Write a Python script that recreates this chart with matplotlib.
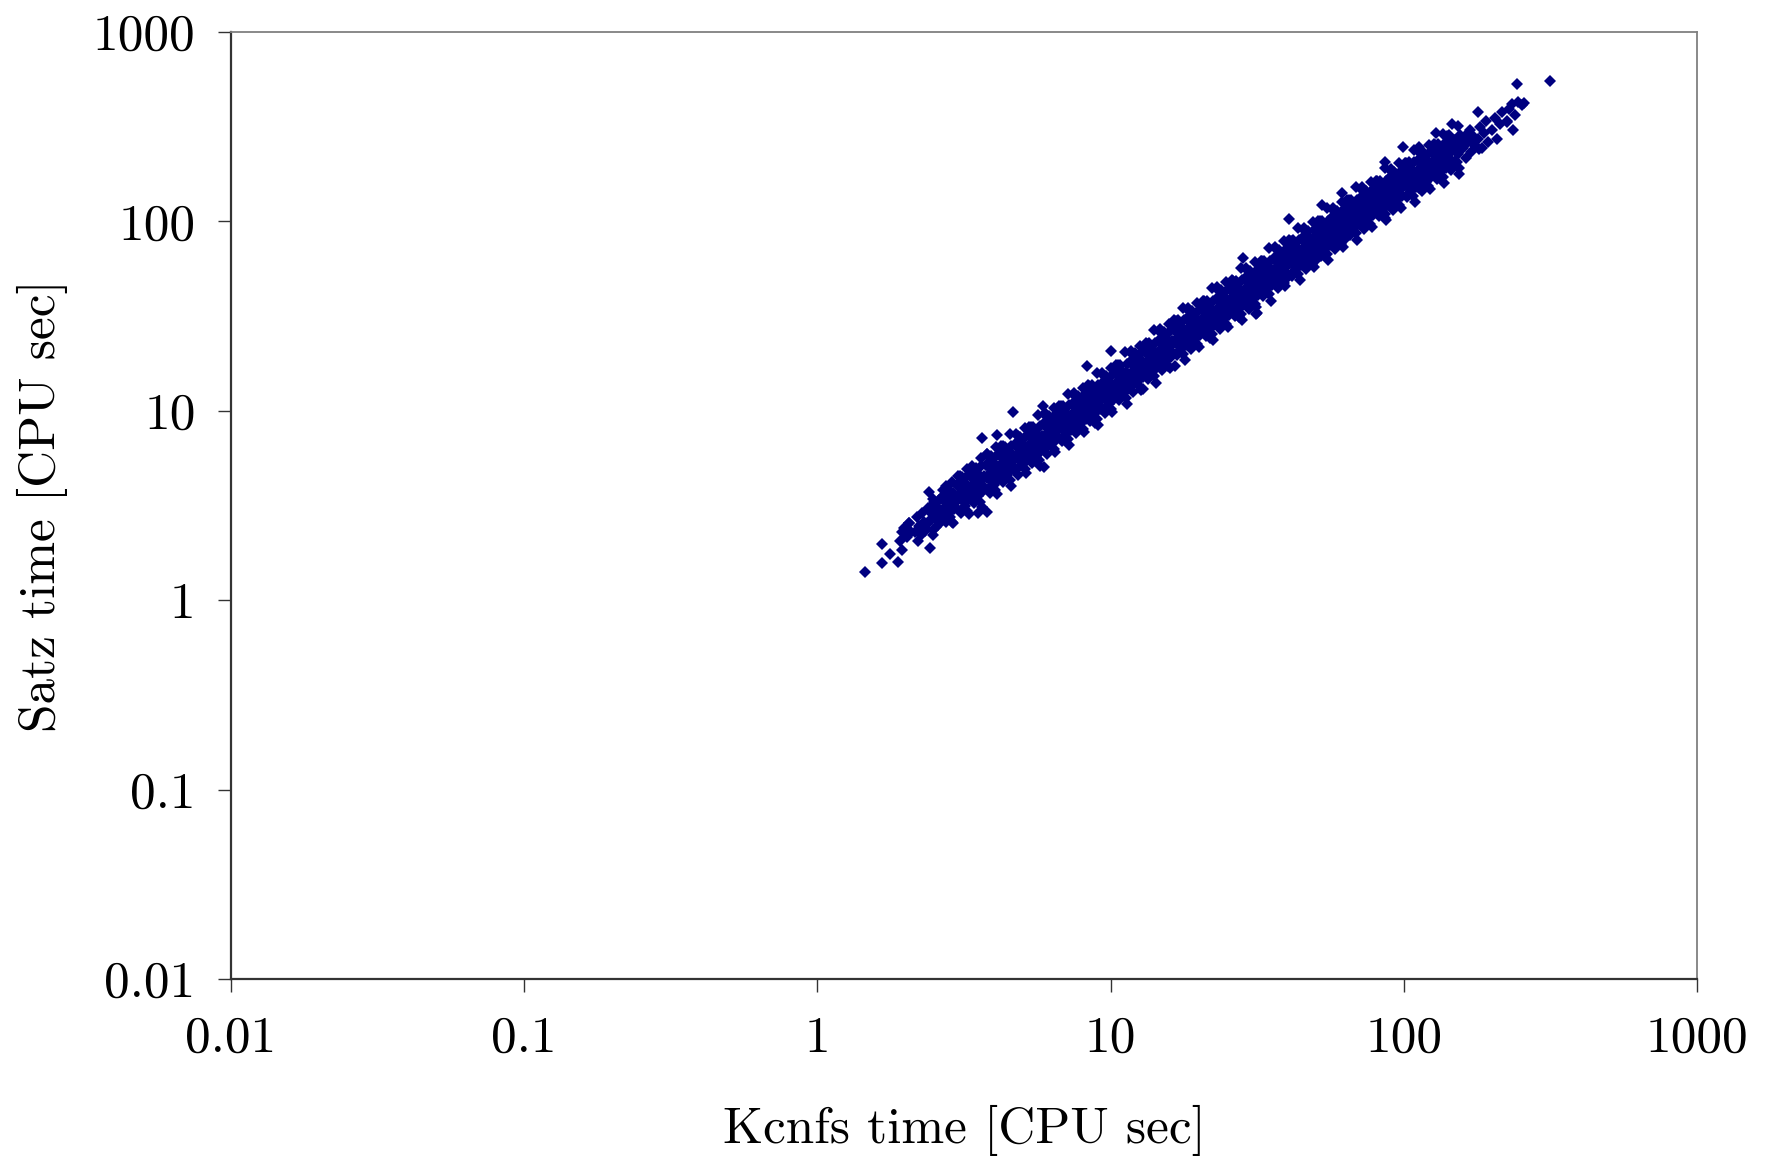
import matplotlib
matplotlib.use("Agg")
import matplotlib.pyplot as plt

plt.rcParams['font.family'] = 'cmr10'
plt.rcParams['mathtext.fontset'] = 'cm'
plt.rcParams['axes.unicode_minus'] = False

# points, grouped roughly by kcnfs time (CPU sec)
kcnfs_time = [
    1.92, 1.97, 2.02, 2.06, 1.95, 2.08,
    2.15, 2.18, 2.22, 2.26, 2.28, 2.31, 2.2, 2.33,
    2.4, 2.42, 2.45, 2.48, 2.5, 2.52, 2.55, 2.58, 2.6, 2.47,
    2.68, 2.7, 2.72, 2.75, 2.78, 2.8, 2.82, 2.85, 2.87, 2.9, 2.74, 2.92,
    3.02, 3.05, 3.08, 3.1, 3.12, 3.15, 3.18, 3.2, 3.23, 3.25, 3.27, 3.3, 3.06,
    3.36, 3.39, 3.42, 3.45, 3.48, 3.5, 3.53, 3.56, 3.59, 3.62, 3.64, 3.4, 3.66,
    3.78, 3.82, 3.85, 3.88, 3.91, 3.94, 3.97, 4.0, 4.03, 4.06, 4.09, 4.12, 3.8,
    4.22, 4.26, 4.3, 4.34, 4.38, 4.42, 4.46, 4.5, 4.54, 4.57, 4.6, 4.3, 4.63,
    4.75, 4.8, 4.84, 4.88, 4.93, 4.97, 5.02, 5.06, 5.1, 5.14, 5.18, 4.82, 5.2,
    5.28, 5.33, 5.38, 5.43, 5.48, 5.53, 5.58, 5.63, 5.68, 5.72, 5.76, 5.35, 5.8,
    5.95, 6.0, 6.06, 6.12, 6.18, 6.23, 6.29, 6.35, 6.4, 6.45, 6.5, 6.03, 6.53,
    6.67, 6.73, 6.8, 6.86, 6.92, 6.98, 7.05, 7.11, 7.17, 7.23, 7.28, 6.75, 7.32,
    7.49, 7.55, 7.62, 7.7, 7.77, 7.83, 7.9, 7.97, 8.03, 8.1, 8.17, 7.58, 8.22,
    8.35, 8.43, 8.5, 8.58, 8.66, 8.74, 8.82, 8.9, 8.97, 9.04, 9.11, 8.45, 9.17,
    9.36, 9.44, 9.53, 9.62, 9.7, 9.79, 9.88, 9.97, 10.05, 10.13, 10.2, 9.47, 10.27,
    10.46, 10.56, 10.66, 10.76, 10.85, 10.95, 11.05, 11.15, 11.24, 11.33, 11.41, 10.6, 11.48,
    11.7, 11.8, 11.9, 12.0, 12.1, 12.25, 12.35, 12.45, 12.55, 12.65, 12.75, 11.85, 12.85,
    13.15, 13.27, 13.4, 13.5, 13.6, 13.72, 13.85, 13.97, 14.08, 14.2, 14.3, 13.3, 14.4,
    14.7, 14.83, 14.95, 15.1, 15.22, 15.35, 15.47, 15.6, 15.72, 15.85, 15.97, 14.87, 16.08,
    16.5, 16.65, 16.8, 16.95, 17.1, 17.25, 17.4, 17.55, 17.68, 17.82, 17.95, 16.7, 18.08,
    18.45, 18.62, 18.8, 18.95, 19.12, 19.28, 19.45, 19.6, 19.75, 19.9, 20.05, 18.65, 20.2,
    20.6, 20.8, 21.0, 21.2, 21.4, 21.6, 21.78, 21.95, 22.12, 22.3, 22.46, 20.85, 22.6,
    23.1, 23.35, 23.55, 23.77, 24.0, 24.2, 24.42, 24.62, 24.8, 25.0, 25.17, 23.38, 25.33,
    25.9, 26.15, 26.4, 26.6, 26.85, 27.08, 27.3, 27.5, 27.75, 27.95, 28.15, 26.2, 28.35,
    29.0, 29.25, 29.5, 29.78, 30.05, 30.3, 30.55, 30.8, 31.05, 31.3, 31.5, 29.3, 31.72,
    32.4, 32.7, 33.0, 33.3, 33.6, 33.9, 34.2, 34.5, 34.75, 35.0, 35.25, 32.8, 35.5,
    36.4, 36.7, 37.0, 37.35, 37.7, 38.0, 38.35, 38.65, 38.95, 39.25, 39.5, 36.8, 39.8,
    40.7, 41.1, 41.45, 41.8, 42.2, 42.55, 42.9, 43.25, 43.55, 43.9, 44.2, 41.2, 44.5,
    45.6, 46.0, 46.4, 46.8, 47.25, 47.65, 48.05, 48.45, 48.8, 49.2, 49.55, 46.1, 49.9,
    51.1, 51.5, 52.0, 52.4, 52.9, 53.35, 53.8, 54.25, 54.65, 55.1, 55.5, 51.6, 55.9,
    57.2, 57.7, 58.2, 58.7, 59.25, 59.75, 60.25, 60.75, 61.2, 61.7, 62.1, 57.8, 62.6,
    64.1, 64.7, 65.2, 65.8, 66.4, 67.0, 67.5, 68.1, 68.6, 69.1, 69.6, 64.8, 70.1,
    71.8, 72.4, 73.0, 73.7, 74.3, 74.9, 75.6, 76.2, 76.8, 77.4, 78.0, 72.6, 78.5,
    80.4, 81.1, 81.8, 82.5, 83.2, 84.0, 84.7, 85.4, 86.0, 86.7, 87.3, 81.3, 88.0,
    90.0, 90.8, 91.6, 92.4, 93.2, 94.0, 94.8, 95.6, 96.3, 97.0, 97.7, 91.0, 98.4,
    100.8, 101.7, 102.6, 103.5, 104.4, 105.3, 106.2, 107, 107.8, 108.6, 109.4, 101.9, 110.2,
    113, 114, 115, 116, 117, 118.2, 119.3, 120.3, 121.2, 122, 123, 114.5, 124,
    126.7, 127.8, 129, 130.2, 131.4, 132.6, 133.8, 135, 136, 137, 138, 128.2, 139,
    142, 143.5, 145, 146.5, 148, 149.5, 151, 152.5, 154, 155.5, 140.5,
    159.5, 161.5, 163.5, 165.5, 167.5, 169.5, 171.5, 173,
    179, 182, 185, 188, 191, 193,
    200, 204, 208, 212, 216,
    224, 229, 235, 240,
    # scattered points away from the core
    1.45, 1.66, 1.66, 1.77, 1.88, 1.94, 2.05, 2.41, 2.43, 3.53, 3.78, 3.63,
    4.1, 4.63, 5.86, 5.93, 8.85, 8.3, 10.0, 12.9, 16.6, 21.8, 31.6, 27.4,
    28.3, 40.3, 40.5, 31.3, 50.1, 52.6, 61.5, 63.5, 86.3, 86.0, 99.4, 113,
    113, 152, 180, 129, 146, 225, 179, 233, 245, 252, 257, 243, 315,
]

satz_time = [
    2.05, 2.4, 2.15, 2.55, 1.85, 2.3,
    2.3, 2.75, 2.45, 2.2, 2.9, 2.6, 2.05, 2.4,
    2.6, 3.05, 2.85, 2.35, 3.3, 2.7, 3.0, 2.5, 3.4, 2.2,
    3.0, 3.5, 2.7, 3.25, 3.8, 2.9, 3.4, 3.1, 2.6, 3.7, 4.0, 3.3,
    3.4, 3.95, 3.0, 3.7, 4.3, 3.3, 4.0, 3.6, 2.95, 4.6, 3.85, 3.45, 4.5,
    3.8, 4.4, 3.4, 4.1, 4.8, 3.7, 4.5, 4.0, 3.3, 5.1, 4.3, 5.0, 3.75,
    4.4, 5.1, 3.9, 4.7, 5.5, 4.2, 5.0, 4.55, 3.8, 5.8, 4.9, 4.3, 5.9,
    4.9, 5.7, 4.4, 5.3, 6.2, 4.75, 5.6, 5.1, 4.3, 6.5, 5.5, 6.5, 4.9,
    5.6, 6.4, 5.0, 6.0, 7.0, 5.35, 6.4, 5.8, 4.9, 7.4, 6.2, 7.4, 5.5,
    6.2, 7.2, 5.6, 6.7, 7.8, 6.0, 7.2, 6.5, 5.5, 8.3, 7.0, 8.2, 6.1,
    7.1, 8.3, 6.4, 7.7, 8.9, 6.9, 8.2, 7.4, 6.3, 9.5, 8.0, 9.4, 7.0,
    8.0, 9.3, 7.2, 8.7, 10.0, 7.8, 9.3, 8.4, 7.1, 10.7, 9.1, 10.6, 7.9,
    9.1, 10.5, 8.2, 9.8, 11.3, 8.8, 10.5, 9.5, 8.0, 12.1, 10.3, 12.0, 9.0,
    10.3, 11.9, 9.2, 11.1, 12.8, 10.0, 11.9, 10.8, 9.1, 13.7, 11.7, 13.5, 10.2,
    11.6, 13.4, 10.4, 12.5, 14.4, 11.2, 13.4, 12.1, 10.2, 15.4, 13.2, 15.2, 11.5,
    13.2, 15.3, 11.9, 14.3, 16.4, 12.8, 15.3, 13.8, 11.7, 17.6, 15.0, 17.4, 13.1,
    15.2, 17.6, 13.6, 16.5, 18.9, 14.7, 17.6, 15.9, 13.4, 20.2, 17.2, 20.0, 15.0,
    17.2, 19.9, 15.4, 18.6, 21.4, 16.6, 19.9, 18.0, 15.2, 22.8, 19.5, 22.6, 17.0,
    19.6, 22.7, 17.6, 21.2, 24.4, 18.9, 22.7, 20.5, 17.3, 26.0, 22.2, 25.8, 19.3,
    22.7, 26.2, 20.3, 24.5, 28.2, 21.8, 26.2, 23.7, 20.0, 30.0, 25.7, 29.8, 22.3,
    25.5, 29.4, 22.8, 27.5, 31.7, 24.5, 29.4, 26.6, 22.4, 33.7, 28.8, 33.4, 25.0,
    28.8, 33.3, 25.8, 31.1, 35.8, 27.7, 33.3, 30.1, 25.3, 38.1, 32.6, 37.8, 28.3,
    32.7, 37.7, 29.2, 35.3, 40.6, 31.4, 37.7, 34.1, 28.7, 43.2, 37.0, 42.9, 32.1,
    36.9, 42.6, 33.0, 39.9, 45.9, 35.5, 42.6, 38.5, 32.5, 48.8, 41.8, 48.5, 36.3,
    41.6, 48.0, 37.2, 45.0, 51.8, 40.0, 48.0, 43.4, 36.6, 55.0, 47.1, 54.7, 40.9,
    46.8, 54.1, 41.9, 50.6, 58.3, 45.0, 54.1, 48.9, 41.2, 61.9, 53.0, 61.5, 46.0,
    53.6, 62.0, 48.0, 58.0, 66.8, 51.6, 62.0, 56.0, 47.2, 70.9, 60.8, 70.5, 52.7,
    60.0, 69.4, 53.7, 64.9, 74.7, 57.7, 69.4, 62.7, 52.8, 79.4, 68.0, 78.9, 59.0,
    67.7, 78.2, 60.5, 73.1, 84.2, 65.0, 78.2, 70.7, 59.5, 89.5, 76.7, 89.0, 66.5,
    76.5, 88.4, 68.4, 82.6, 95.2, 73.5, 88.4, 79.9, 67.3, 101, 86.7, 100, 75.2,
    86.4, 99.8, 77.3, 93.3, 108, 83.0, 99.8, 90.2, 76.0, 114, 97.9, 113, 84.9,
    98.1, 113, 87.7, 106, 122, 94.2, 113, 102, 86.3, 130, 111, 129, 96.4,
    110, 127, 98.2, 118, 137, 105, 127, 115, 96.6, 145, 124, 144, 108,
    124, 144, 111, 134, 155, 119, 144, 130, 109, 164, 141, 163, 122,
    139, 160, 124, 150, 173, 133, 160, 145, 122, 183, 157, 182, 136,
    155, 179, 138, 167, 193, 148, 179, 162, 136, 205, 176, 203, 152,
    174, 201, 155, 187, 216, 166, 201, 182, 153, 230, 197, 228, 171,
    194, 225, 174, 210, 242, 186, 225, 204, 171, 256, 221, 254, 191,
    217, 251, 194, 234, 270, 208, 251, 228, 192, 286, 282,
    243, 281, 217, 262, 302, 233, 281, 254,
    272, 314, 243, 293, 338, 261,
    303, 350, 272, 327, 377,
    339, 392, 305, 366,
    # scattered points away from the core
    1.41, 1.57, 1.98, 1.75, 1.6, 2.29, 2.56, 3.72, 1.89, 2.89, 2.92, 7.16,
    7.45, 9.8, 10.6, 5.05, 8.65, 17.3, 20.7, 13.0, 17.3, 24.2, 32.8, 31.3,
    64, 50.8, 103, 32.4, 62.5, 122, 141, 81.7, 104, 206, 247, 150,
    247, 206, 241, 293, 327, 335, 378, 417, 425, 412, 420, 529, 553,
]

# points along the upper and lower edges of the band
kcnfs_edge = [
    2.69, 2.88, 2.74, 2.91, 2.8, 2.86, 2.63, 2.97,
    3.02, 3.24, 3.09, 3.28, 3.15, 3.21, 2.96, 3.34,
    3.36, 3.6, 3.43, 3.64, 3.5, 3.57, 3.29, 3.71,
    3.79, 4.07, 3.87, 4.11, 3.95, 4.03, 3.71, 4.19,
    4.22, 4.53, 4.31, 4.58, 4.4, 4.49, 4.14, 4.66,
    4.75, 5.1, 4.85, 5.15, 4.95, 5.05, 4.65, 5.25,
    5.28, 5.67, 5.39, 5.72, 5.5, 5.61, 5.17, 5.83,
    5.95, 6.39, 6.08, 6.45, 6.2, 6.32, 5.83, 6.57,
    6.67, 7.16, 6.81, 7.23, 6.95, 7.09, 6.53, 7.37,
    7.49, 8.03, 7.64, 8.11, 7.8, 7.96, 7.33, 8.27,
    8.35, 8.96, 8.53, 9.05, 8.7, 8.87, 8.18, 9.22,
    9.36, 10.04, 9.56, 10.14, 9.75, 9.95, 9.17, 10.34,
    10.46, 11.23, 10.68, 11.34, 10.9, 11.12, 10.25, 11.55,
    11.71, 12.57, 11.96, 12.69, 12.2, 12.44, 11.47, 12.93,
    13.15, 14.11, 13.43, 14.25, 13.7, 13.97, 12.88, 14.52,
    14.69, 15.76, 14.99, 15.91, 15.3, 15.61, 14.38, 16.22,
    16.51, 17.72, 16.86, 17.89, 17.2, 17.54, 16.17, 18.23,
    18.43, 19.78, 18.82, 19.97, 19.2, 19.58, 18.05, 20.35,
    20.64, 22.15, 21.07, 22.36, 21.5, 21.93, 20.21, 22.79,
    23.14, 24.82, 23.62, 25.06, 24.1, 24.58, 22.65, 25.55,
    25.92, 27.81, 26.46, 28.08, 27.0, 27.54, 25.38, 28.62,
    28.99, 31.11, 29.6, 31.41, 30.2, 30.8, 28.39, 32.01,
    32.45, 34.81, 33.12, 35.15, 33.8, 34.48, 31.77, 35.83,
    36.38, 39.04, 37.14, 39.42, 37.9, 38.66, 35.63, 40.17,
    40.7, 43.67, 41.55, 44.1, 42.4, 43.25, 39.86, 44.94,
    45.6, 48.93, 46.55, 49.4, 47.5, 48.45, 44.65, 50.35,
    51.07, 54.8, 52.14, 55.33, 53.2, 54.26, 50.01, 56.39,
    57.22, 61.39, 58.41, 61.98, 59.6, 60.79, 56.02, 63.18,
    64.13, 68.8, 65.46, 69.47, 66.8, 68.14, 62.79, 70.81,
    71.81, 77.04, 73.3, 77.79, 74.8, 76.3, 70.31, 79.29,
    80.45, 86.31, 82.12, 87.15, 83.8, 85.48, 78.77, 88.83,
    90.05, 96.61, 91.92, 97.55, 93.8, 95.68, 88.17, 99.43,
    100.8, 108.2, 102.9, 109.2, 105, 107.1, 98.7, 111.3,
    113.3, 121.5, 115.6, 122.7, 118, 120.4, 110.9, 125.1,
    126.7, 136, 129.4, 137.3, 132, 134.6, 124.1, 139.9,
    142.1, 152.4, 145, 153.9, 148, 151, 139.1, 156.9,
]

satz_edge = [
    3.8, 4.2, 2.6, 2.55, 3.45, 3.15, 3.0, 3.5,
    4.5, 4.9, 2.9, 2.85, 3.95, 3.65, 3.5, 4.0,
    5.1, 5.6, 3.25, 3.1, 4.4, 4.15, 3.9, 4.5,
    5.9, 6.4, 3.7, 3.65, 5.05, 4.75, 4.45, 5.2,
    6.5, 7.5, 4.2, 4.0, 5.7, 5.3, 5.0, 5.85,
    7.5, 8.1, 4.6, 4.7, 6.45, 6.0, 5.75, 6.6,
    8.2, 9.5, 5.3, 5.1, 7.3, 6.75, 6.4, 7.4,
    9.7, 10.4, 5.9, 6.05, 8.3, 7.7, 7.4, 8.5,
    10.6, 12.3, 6.9, 6.6, 9.4, 8.7, 8.3, 9.6,
    12.4, 13.2, 7.6, 7.75, 10.6, 9.9, 9.4, 10.8,
    13.6, 15.8, 8.8, 8.4, 12.0, 11.2, 10.6, 12.2,
    15.9, 16.9, 9.7, 9.9, 13.5, 12.6, 12.0, 13.8,
    17.5, 20.4, 11.4, 10.8, 15.4, 14.4, 13.7, 15.7,
    20.8, 22.1, 12.6, 12.9, 17.7, 16.6, 15.7, 18.1,
    22.7, 26.6, 14.8, 14.0, 20.1, 18.7, 17.8, 20.4,
    26.9, 28.6, 16.4, 16.8, 22.9, 21.4, 20.3, 23.3,
    30.0, 35.0, 19.6, 18.5, 26.5, 24.7, 23.4, 27.0,
    34.9, 37.2, 21.2, 21.7, 29.7, 27.7, 26.3, 30.3,
    38.1, 44.4, 24.8, 23.5, 33.6, 31.4, 29.8, 34.2,
    44.8, 47.8, 27.1, 27.8, 38.1, 35.6, 33.8, 38.8,
    48.8, 57.0, 31.8, 30.2, 43.1, 40.2, 38.1, 43.9,
    57.0, 60.8, 34.4, 35.4, 48.5, 45.3, 43.0, 49.4,
    61.9, 72.1, 40.3, 38.2, 54.6, 51.0, 48.4, 55.6,
    73.5, 78.5, 44.4, 45.6, 62.6, 58.4, 55.4, 63.8,
    79.4, 92.5, 51.7, 49.0, 70.0, 65.4, 62.0, 71.4,
    92.8, 98.9, 56.1, 57.5, 79.0, 73.7, 69.9, 80.5,
    101, 118, 65.9, 62.5, 89.3, 83.3, 79.1, 91.0,
    118, 127, 71.5, 73.4, 101, 94.1, 89.3, 103,
    130, 151, 84.5, 80.2, 114, 107, 101, 117,
    151, 161, 90.8, 93.3, 128, 120, 113, 131,
    164, 192, 107, 102, 145, 135, 128, 148,
    190, 203, 115, 118, 162, 151, 143, 165,
    204, 239, 134, 126, 181, 169, 160, 184,
    238, 254, 144, 148, 203, 189, 179, 207,
    257, 288, 167, 159, 227, 212, 201, 231,
    286, 318, 186, 178, 253, 236, 224, 258,
]

# more points inside the dense middle of the band
kcnfs_core = [
    2.33, 2.39, 2.44, 2.48, 2.53, 2.56, 2.61, 2.68,
    2.6, 2.67, 2.73, 2.77, 2.83, 2.87, 2.93, 3.0,
    2.93, 3.01, 3.07, 3.12, 3.18, 3.23, 3.29, 3.37,
    3.26, 3.34, 3.41, 3.47, 3.54, 3.59, 3.66, 3.75,
    3.67, 3.77, 3.85, 3.91, 3.99, 4.05, 4.13, 4.23,
    4.09, 4.2, 4.29, 4.36, 4.44, 4.51, 4.6, 4.71,
    4.6, 4.73, 4.83, 4.9, 5.0, 5.07, 5.17, 5.3,
    5.12, 5.25, 5.36, 5.45, 5.56, 5.64, 5.75, 5.89,
    5.77, 5.92, 6.05, 6.14, 6.26, 6.36, 6.48, 6.63,
    6.46, 6.64, 6.78, 6.88, 7.02, 7.12, 7.26, 7.44,
    7.25, 7.45, 7.61, 7.72, 7.88, 8.0, 8.15, 8.35,
    8.09, 8.31, 8.48, 8.61, 8.79, 8.92, 9.09, 9.31,
    9.07, 9.31, 9.51, 9.65, 9.85, 9.99, 10.19, 10.43,
    10.14, 10.41, 10.63, 10.79, 11.01, 11.17, 11.39, 11.66,
    11.35, 11.65, 11.9, 12.08, 12.32, 12.51, 12.75, 13.05,
    12.74, 13.08, 13.36, 13.56, 13.84, 14.04, 14.32, 14.66,
    14.23, 14.61, 14.92, 15.15, 15.45, 15.68, 15.99, 16.37,
    16.0, 16.43, 16.77, 17.03, 17.37, 17.63, 17.97, 18.4,
    17.86, 18.34, 18.72, 19.01, 19.39, 19.68, 20.06, 20.54,
    20.0, 20.53, 20.96, 21.29, 21.72, 22.04, 22.47, 23.0,
    22.41, 23.02, 23.5, 23.86, 24.34, 24.7, 25.18, 25.79,
    25.11, 25.79, 26.33, 26.73, 27.27, 27.68, 28.22, 28.89,
    28.09, 28.84, 29.45, 29.9, 30.5, 30.96, 31.56, 32.31,
    31.43, 32.28, 32.96, 33.46, 34.14, 34.65, 35.32, 36.17,
    35.25, 36.19, 36.95, 37.52, 38.28, 38.85, 39.61, 40.55,
    39.43, 40.49, 41.34, 41.98, 42.82, 43.46, 44.31, 45.37,
    44.18, 45.36, 46.31, 47.03, 47.98, 48.69, 49.64, 50.83,
    49.48, 50.81, 51.87, 52.67, 53.73, 54.53, 55.59, 56.92,
    55.43, 56.92, 58.11, 59.0, 60.2, 61.09, 62.28, 63.77,
    62.12, 63.79, 65.13, 66.13, 67.47, 68.47, 69.81, 71.48,
    69.56, 71.43, 72.93, 74.05, 75.55, 76.67, 78.17, 80.04,
    77.93, 80.03, 81.71, 82.96, 84.64, 85.9, 87.57, 89.67,
    87.23, 89.58, 91.46, 92.86, 94.74, 96.15, 98.02, 100.4,
    97.65, 100.3, 102.4, 104, 106.1, 107.6, 109.7, 112.4,
    109.7, 112.7, 115.1, 116.8, 119.2, 121, 123.3, 126.3,
    122.8, 126.1, 128.7, 130.7, 133.3, 135.3, 137.9, 141.2,
]

satz_core = [
    2.32, 3.07, 2.67, 3.42, 2.42, 3.1, 2.76, 3.56,
    2.63, 3.49, 3.03, 3.89, 2.75, 3.52, 3.13, 4.04,
    3.02, 4.0, 3.48, 4.46, 3.15, 4.04, 3.59, 4.64,
    3.38, 4.48, 3.9, 4.99, 3.53, 4.52, 4.02, 5.19,
    3.88, 5.15, 4.48, 5.74, 4.06, 5.2, 4.63, 5.97,
    4.37, 5.79, 5.04, 6.46, 4.57, 5.84, 5.2, 6.71,
    4.94, 6.56, 5.71, 7.31, 5.17, 6.62, 5.89, 7.6,
    5.55, 7.36, 6.4, 8.2, 5.8, 7.42, 6.61, 8.53,
    6.35, 8.42, 7.33, 9.39, 6.64, 8.5, 7.57, 9.76,
    7.18, 9.52, 8.29, 10.6, 7.51, 9.61, 8.55, 11.0,
    8.12, 10.8, 9.37, 12.0, 8.49, 10.9, 9.68, 12.5,
    9.17, 12.2, 10.6, 13.6, 9.59, 12.3, 10.9, 14.1,
    10.4, 13.8, 12.0, 15.3, 10.8, 13.9, 12.4, 15.9,
    11.8, 15.7, 13.6, 17.5, 12.4, 15.8, 14.1, 18.2,
    13.6, 18.0, 15.7, 20.1, 14.2, 18.2, 16.2, 20.9,
    15.4, 20.4, 17.7, 22.7, 16.1, 20.6, 18.3, 23.6,
    17.5, 23.2, 20.2, 25.9, 18.3, 23.5, 20.9, 26.9,
    20.3, 26.9, 23.4, 30.0, 21.2, 27.1, 24.1, 31.1,
    22.8, 30.2, 26.3, 33.6, 23.8, 30.5, 27.1, 35.0,
    25.7, 34.1, 29.7, 38.0, 26.9, 34.4, 30.7, 39.6,
    29.2, 38.7, 33.7, 43.2, 30.5, 39.1, 34.8, 44.9,
    33.0, 43.7, 38.0, 48.7, 34.5, 44.1, 39.3, 50.7,
    37.1, 49.2, 42.9, 54.9, 38.9, 49.7, 44.3, 57.1,
    41.8, 55.4, 48.3, 61.8, 43.7, 56.0, 49.8, 64.3,
    47.9, 63.5, 55.3, 70.9, 50.1, 64.1, 57.1, 73.7,
    53.6, 71.1, 61.9, 79.3, 56.1, 71.8, 63.9, 82.4,
    60.5, 80.2, 69.8, 89.4, 63.2, 80.9, 72.0, 92.9,
    68.3, 90.6, 78.9, 101, 71.5, 91.5, 81.4, 105,
    77.2, 102, 89.1, 114, 80.7, 103, 92.0, 119,
    87.6, 116, 101, 130, 91.7, 117, 104, 135,
    98.1, 130, 113, 145, 103, 131, 117, 151,
    111, 147, 128, 164, 116, 148, 132, 171,
    124, 164, 143, 183, 130, 166, 148, 190,
    138, 183, 160, 205, 145, 185, 165, 213,
    155, 206, 179, 229, 162, 208, 185, 239,
    174, 230, 200, 257, 182, 232, 207, 267,
]

x_ticks = [0.01, 0.1, 1, 10, 100, 1000]
x_tick_labels = ['0.01', '0.1', '1', '10', '100', '1000']
y_ticks = [0.01, 0.1, 1, 10, 100, 1000]
y_tick_labels = ['0.01', '0.1', '1', '10', '100', '1000']

fig = plt.figure(figsize=(17.7, 11.58), dpi=100)
ax = fig.add_axes([0.1305, 0.1546, 0.8283, 0.8178])

all_kcnfs = kcnfs_time + kcnfs_edge + kcnfs_core
all_satz = satz_time + satz_edge + satz_core
ax.plot(all_kcnfs, all_satz, linestyle='none',
        marker='D', markersize=6.2, markeredgewidth=0, color='#000080')

ax.set_xscale('log')
ax.set_yscale('log')
ax.set_xlim(0.01, 1000)
ax.set_ylim(0.01, 1000)
ax.set_xticks(x_ticks)
ax.set_xticklabels(x_tick_labels)
ax.set_yticks(y_ticks)
ax.set_yticklabels(y_tick_labels)
ax.minorticks_off()

ax.tick_params(axis='both', direction='out', length=9.5, width=1.0,
               color='#333333', labelsize=37, labelcolor='black')
ax.tick_params(axis='x', pad=17)
ax.tick_params(axis='y', pad=16)

for side in ['left', 'bottom']:
    ax.spines[side].set_color('#333333')
    ax.spines[side].set_linewidth(1.6)
for side in ['top', 'right']:
    ax.spines[side].set_color('#808080')
    ax.spines[side].set_linewidth(1.3)

ax.set_xlabel('Kcnfs time [CPU sec]', fontsize=37)
ax.set_ylabel('Satz time [CPU sec]', fontsize=37)
ax.xaxis.set_label_coords(0.5, -0.133)
ax.yaxis.set_label_coords(-0.111, 0.5)

fig.savefig('out.png', dpi=100, facecolor='white')
